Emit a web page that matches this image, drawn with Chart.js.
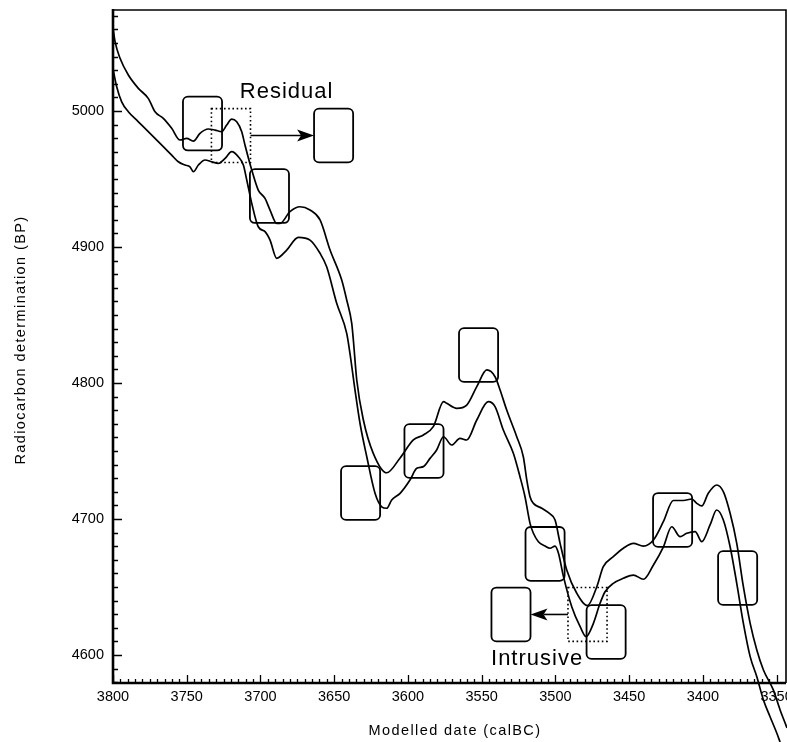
<!DOCTYPE html>
<html><head><meta charset="utf-8">
<script src="https://cdn.jsdelivr.net/npm/chart.js@4.4.1/dist/chart.umd.min.js"></script>
<style>html,body{margin:0;padding:0;background:#fff;} #wrap{width:787px;height:742px;}</style>
</head><body>
<div id="wrap"><canvas id="c" width="787" height="742"></canvas></div>
<script>
// ---- data ----
const xTickValues = [3800, 3750, 3700, 3650, 3600, 3550, 3500, 3450, 3400, 3350];
const yTickValues = [4600, 4700, 4800, 4900, 5000];

// calibration curve, upper (+1 sigma) edge
const upperX = [3800, 3798.6, 3795.3, 3789.6, 3782.8, 3776.1, 3771.5, 3765.9, 3760.2, 3754.6, 3750.0, 3745.5, 3741.0, 3735.4, 3730.8, 3726.3, 3722.9, 3719.5, 3716.1, 3712.7, 3710.5, 3705.9, 3701.5, 3696.9, 3693.5, 3689.0, 3686.7, 3680.0, 3673.2, 3666.4, 3659.6, 3652.8, 3644.9, 3641.5, 3638.1, 3637.0, 3634.7, 3630.2, 3623.5, 3614.4, 3605.3, 3596.3, 3589.5, 3582.8, 3575.8, 3573.7, 3566.9, 3560.1, 3553.3, 3546.5, 3540.9, 3537.5, 3533.0, 3526.2, 3521.7, 3519.4, 3517.2, 3514.9, 3509.2, 3503.6, 3500.2, 3496.8, 3492.3, 3485.5, 3478.3, 3471.9, 3467.5, 3460.7, 3453.9, 3447.1, 3440.3, 3433.5, 3426.8, 3420.0, 3413.2, 3407.5, 3404.1, 3400.7, 3396.3, 3390.6, 3386.1, 3381.5, 3377.0, 3372.5, 3367.9, 3363.4, 3358.9, 3352.2, 3347.6, 3344.2, 3342.9];
const upperY = [5061, 5051, 5039, 5026.5, 5016.7, 5009.3, 4999.5, 4994.6, 4987.3, 4978.7, 4979.9, 4977.9, 4983.6, 4986.8, 4986.0, 4984.8, 4989.7, 4994.1, 4992.1, 4984.8, 4975.0, 4956.6, 4941.9, 4935.8, 4927.2, 4917.4, 4917.4, 4926.0, 4929.6, 4927.2, 4919.9, 4897.8, 4875.7, 4861.0, 4843.9, 4831.6, 4802.2, 4772.8, 4748.3, 4734.0, 4744.9, 4758.1, 4761.8, 4767.9, 4786.3, 4785.1, 4781.4, 4783.8, 4797.3, 4809.6, 4804.6, 4794.9, 4780.1, 4760.5, 4745.6, 4728.7, 4716.4, 4711.5, 4707.9, 4703.7, 4699.3, 4682.1, 4662.5, 4645.4, 4636.3, 4650.2, 4664.9, 4672.3, 4678.5, 4682.1, 4680.1, 4684.6, 4698.0, 4713.6, 4713.6, 4714.7, 4711.5, 4709.6, 4718.9, 4725.0, 4720.1, 4704.2, 4682.1, 4650.2, 4623.3, 4603.7, 4589.0, 4574.3, 4559.6, 4550.0, 4546.3];

// calibration curve, lower (-1 sigma) edge
const lowerX = [3800, 3797.5, 3794.1, 3789.6, 3782.8, 3777.1, 3771.5, 3765.9, 3760.2, 3755.7, 3751.2, 3747.8, 3745.5, 3742.1, 3737.6, 3733.1, 3728.6, 3724.0, 3719.5, 3715.0, 3711.6, 3709.3, 3705.9, 3701.5, 3696.9, 3693.5, 3689.0, 3682.2, 3674.3, 3666.4, 3659.6, 3655.1, 3648.3, 3641.5, 3639.3, 3635.9, 3632.5, 3627.9, 3622.3, 3617.8, 3614.4, 3611.0, 3605.3, 3598.6, 3594.0, 3589.5, 3585.0, 3580.5, 3575.9, 3570.3, 3564.7, 3560.1, 3553.3, 3545.5, 3540.9, 3535.3, 3528.5, 3524.0, 3520.6, 3517.2, 3514.9, 3511.5, 3507.0, 3503.6, 3500.2, 3497.9, 3494.5, 3488.9, 3483.2, 3479.2, 3474.2, 3469.7, 3466.3, 3460.7, 3453.9, 3447.1, 3440.3, 3433.5, 3426.8, 3421.1, 3415.4, 3410.9, 3405.2, 3400.7, 3395.1, 3390.6, 3386.1, 3381.5, 3377.0, 3372.5, 3367.9, 3363.4, 3358.9, 3354.4, 3349.8, 3347.6];
const lowerY = [5031, 5017.9, 5006.8, 4999.5, 4992.1, 4986.0, 4979.9, 4973.8, 4967.6, 4962.7, 4960.3, 4959.0, 4955.4, 4960.3, 4964.0, 4962.7, 4961.5, 4965.2, 4970.1, 4966.4, 4960.3, 4949.3, 4932.1, 4914.9, 4911.3, 4905.1, 4891.7, 4897.8, 4907.1, 4905.1, 4895.4, 4885.5, 4858.6, 4836.5, 4821.8, 4794.9, 4770.4, 4745.8, 4718.9, 4709.0, 4707.9, 4714.0, 4718.9, 4728.7, 4737.3, 4738.5, 4744.6, 4750.7, 4760.5, 4754.4, 4759.3, 4758.1, 4772.8, 4786.3, 4782.6, 4765.4, 4748.3, 4731.1, 4716.4, 4696.8, 4689.5, 4683.3, 4680.1, 4678.5, 4680.1, 4674.8, 4657.6, 4635.5, 4620.8, 4613.5, 4623.3, 4638.0, 4646.5, 4652.7, 4656.4, 4658.8, 4655.7, 4666.2, 4679.4, 4694.3, 4687.0, 4689.5, 4690.7, 4683.3, 4695.6, 4706.6, 4699.3, 4679.6, 4652.7, 4623.3, 4598.8, 4584.0, 4566.9, 4554.6, 4542.4, 4536.0];

// samples (box centres: date calBC, radiocarbon BP)
const boxX = [3739.3, 3693.9, 3650.4, 3632.1, 3589.1, 3552.1, 3507.0, 3465.6, 3530.1, 3420.5, 3376.4];
const boxY = [4990.8, 4937.5, 4982.0, 4719.1, 4750.0, 4820.6, 4674.3, 4616.9, 4629.8, 4699.3, 4656.6];
// original (expected) positions of the moved samples
const ghostX = [3720.0, 3478.2];
const ghostY = [4982.0, 4629.8];
const ghostTarget = [2, 8];           // index into boxX/boxY
const noteText = ['Residual', 'Intrusive'];

// ---- drawing helpers ----
const FONT = '"Liberation Sans", Arial, Helvetica, sans-serif';
const BOX_HALF_W = 13.25;   // years
const BOX_HALF_H = 19.8;    // BP

function rectPx(sx, sy, cx, cy) {
  const x1 = sx.getPixelForValue(cx + BOX_HALF_W), x2 = sx.getPixelForValue(cx - BOX_HALF_W);
  const y1 = sy.getPixelForValue(cy + BOX_HALF_H), y2 = sy.getPixelForValue(cy - BOX_HALF_H);
  return {l: Math.min(x1, x2), r: Math.max(x1, x2), t: Math.min(y1, y2), b: Math.max(y1, y2)};
}

function arrow(ctx, x0, y0, x1, y1) {
  const ang = Math.atan2(y1 - y0, x1 - x0);
  const L = 17, W = 6, N = 13;
  const bx = x1 - L * Math.cos(ang), by = y1 - L * Math.sin(ang);
  const nx = x1 - N * Math.cos(ang), ny = y1 - N * Math.sin(ang);
  ctx.beginPath(); ctx.moveTo(x0, y0); ctx.lineTo(nx, ny); ctx.stroke();
  ctx.beginPath();
  ctx.moveTo(x1, y1);
  ctx.lineTo(bx + W * Math.sin(ang), by - W * Math.cos(ang));
  ctx.lineTo(nx, ny);
  ctx.lineTo(bx - W * Math.sin(ang), by + W * Math.cos(ang));
  ctx.closePath(); ctx.fill();
}

const samplesPlugin = {
  id: 'samples',
  afterDatasetsDraw(chart) {
    const {ctx, scales: {x, y}} = chart;
    ctx.save();
    ctx.strokeStyle = '#000'; ctx.fillStyle = '#000';
    ctx.lineWidth = 1.8;
    for (let i = 0; i < boxX.length; i++) {
      const r = rectPx(x, y, boxX[i], boxY[i]);
      ctx.beginPath(); ctx.roundRect(r.l, r.t, r.r - r.l, r.b - r.t, 5); ctx.stroke();
    }
    for (let i = 0; i < ghostX.length; i++) {
      const g = rectPx(x, y, ghostX[i], ghostY[i]);
      ctx.save(); ctx.setLineDash([1.6, 2.6]); ctx.lineWidth = 1.6;
      ctx.strokeRect(g.l, g.t, g.r - g.l, g.b - g.t); ctx.restore();
      const t = rectPx(x, y, boxX[ghostTarget[i]], boxY[ghostTarget[i]]);
      const gy = (g.t + g.b) / 2, ty = (t.t + t.b) / 2;
      ctx.lineWidth = 1.6;
      if (t.l > g.r) arrow(ctx, g.r, gy, t.l, ty);
      else arrow(ctx, g.l, gy, t.r, ty);
    }
    // notes
    ctx.font = '22px ' + FONT; ctx.letterSpacing = '1px';
    ctx.textAlign = 'center'; ctx.textBaseline = 'alphabetic';
    ctx.fillText(noteText[0], x.getPixelForValue(3682.3), y.getPixelForValue(5009.6));
    ctx.fillText(noteText[1], x.getPixelForValue(3512.4), y.getPixelForValue(4592.6));
    ctx.restore();
  }
};

const framePlugin = {
  id: 'frame',
  afterDraw(chart) {
    const {ctx, chartArea: a, scales: {x, y}} = chart;
    ctx.save();
    ctx.strokeStyle = '#000';
    ctx.lineWidth = 1.6;
    ctx.beginPath(); ctx.moveTo(a.left, a.top); ctx.lineTo(a.right, a.top); ctx.lineTo(a.right, a.bottom); ctx.stroke();
    ctx.lineWidth = 2.6;
    ctx.beginPath(); ctx.moveTo(a.left, a.top - 1); ctx.lineTo(a.left, a.bottom); ctx.lineTo(a.right, a.bottom); ctx.stroke();
    ctx.lineWidth = 1.3;
    ctx.beginPath();
    for (let v = 3350; v <= 3800; v += 5) {
      const px = Math.round(x.getPixelForValue(v)) + 0.5;
      const len = v % 50 === 0 ? 8 : 4;
      ctx.moveTo(px, a.bottom); ctx.lineTo(px, a.bottom - len);
    }
    for (let v = 4580; v <= 5070; v += 10) {
      const py = Math.round(y.getPixelForValue(v)) + 0.5;
      const len = v % 100 === 0 ? 9 : 5;
      ctx.moveTo(a.left, py); ctx.lineTo(a.left + len, py);
    }
    ctx.stroke();
    // axis titles
    ctx.fillStyle = '#000';
    ctx.font = '14.5px ' + FONT; ctx.letterSpacing = '1.4px';
    ctx.textAlign = 'center'; ctx.textBaseline = 'middle';
    ctx.fillText('Modelled date (calBC)', 455, 731);
    ctx.translate(21, 340); ctx.rotate(-Math.PI / 2);
    ctx.fillText('Radiocarbon determination (BP)', 0, 0);
    ctx.restore();
  }
};

const lineStyle = {borderColor: '#000', borderWidth: 1.7, pointRadius: 0, cubicInterpolationMode: 'monotone', clip: false, fill: false};

new Chart(document.getElementById('c'), {
  type: 'line',
  data: {
    datasets: [
      Object.assign({label: 'upper', data: upperX.map((v, i) => ({x: v, y: upperY[i]}))}, lineStyle),
      Object.assign({label: 'lower', data: lowerX.map((v, i) => ({x: v, y: lowerY[i]}))}, lineStyle)
    ]
  },
  options: {
    responsive: false, animation: false, devicePixelRatio: 1,
    layout: {padding: {top: 10, right: 1, left: 0, bottom: 0}},
    plugins: {legend: {display: false}, tooltip: {enabled: false}},
    scales: {
      x: {
        type: 'linear', reverse: true, min: 3343.6, max: 3800,
        grid: {display: false, drawTicks: false, tickLength: 0}, border: {display: false},
        ticks: {color: '#000', font: {family: FONT, size: 14.5}, padding: 5, maxRotation: 0, autoSkip: false, callback: v => String(v)},
        afterBuildTicks: s => { s.ticks = xTickValues.map(v => ({value: v})); },
        afterFit: s => { s.height = 59; s.paddingLeft = 0; s.paddingRight = 0; }
      },
      y: {
        type: 'linear', min: 4579.4, max: 5074.3,
        grid: {display: false, drawTicks: false, tickLength: 0}, border: {display: false},
        ticks: {color: '#000', font: {family: FONT, size: 14.5}, padding: 9, autoSkip: false, callback: v => String(v)},
        afterBuildTicks: s => { s.ticks = yTickValues.map(v => ({value: v})); },
        afterFit: s => { s.width = 113; s.paddingTop = 0; s.paddingBottom = 0; }
      }
    }
  },
  plugins: [samplesPlugin, framePlugin]
});
</script>
</body></html>
